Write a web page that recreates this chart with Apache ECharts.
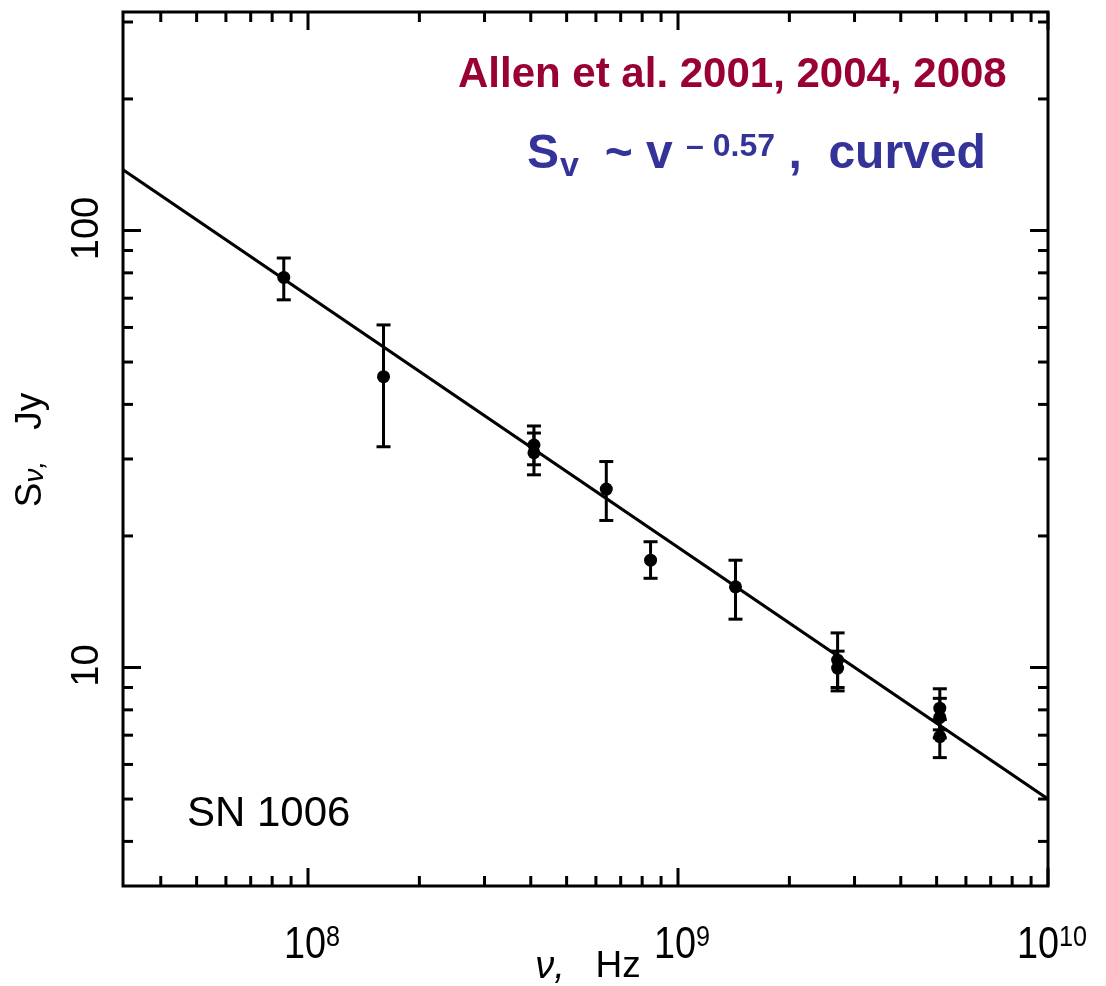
<!DOCTYPE html>
<html>
<head>
<meta charset="utf-8">
<script src="https://cdn.jsdelivr.net/npm/echarts@6/dist/echarts.min.js"></script>
<style>
  html, body { margin: 0; padding: 0; background: #fff; }
  #chart { width: 1106px; height: 986px; }
</style>
</head>
<body>
<div id="chart"></div>
<script>
// Radio flux density measurements of SN 1006
const freqHz  = [8.6e7, 1.6e8, 4.08e8, 4.08e8, 6.4e8, 8.43e8, 1.43e9, 2.7e9, 2.7e9, 5.1e9, 5.1e9, 5.1e9];
const fluxJy  = [78.1, 46.3, 32.3, 31.0, 25.6, 17.6, 15.3, 10.4, 9.97, 8.07, 7.69, 6.95];
const errLow  = [69.4, 32.0, 29.1, 27.6, 21.7, 16.0, 12.9, 9.0, 8.84, 7.2, 6.9, 6.22];
const errHigh = [86.5, 60.8, 35.7, 34.4, 29.6, 19.4, 17.6, 12.0, 10.9, 8.94, 8.5, 7.6];

// Power-law fit, end points across the plotted frequency range
const fitFreq = [3.1623e7, 1e10];
const fitFlux = [137.7, 5.0];

// Axis ticks
const xMajorTicks = [1e8, 1e9, 1e10];
const xTickExponents = ['8', '9', '10'];
const xMinorTicks = [4e7, 5e7, 6e7, 7e7, 8e7, 9e7,
                     2e8, 3e8, 4e8, 5e8, 6e8, 7e8, 8e8, 9e8,
                     2e9, 3e9, 4e9, 5e9, 6e9, 7e9, 8e9, 9e9];
const yMajorTicks = [10, 100];
const yTickLabels = ['10', '100'];
const yMinorTicks = [4, 5, 6, 7, 8, 9, 20, 30, 40, 50, 60, 70, 80, 90, 200, 300];

const X_MIN = Math.pow(10, 7.5), X_MAX = 1e10;
const Y_MIN = Math.pow(10, 0.5), Y_MAX = Math.pow(10, 2.5);

const FONT = '"Liberation Sans", Arial, Helvetica, sans-serif';
const TICK_STYLE = { stroke: '#000', lineWidth: 3 };
const MAJOR_LEN = 18, MINOR_LEN = 10;
const FORMULA_COLOR = '#333399';

const chart = echarts.init(document.getElementById('chart'), null, { renderer: 'canvas' });

function xTickItem(params, api) {
  const v = api.value(0);
  const len = api.value(2) === 1 ? MAJOR_LEN : MINOR_LEN;
  const b = api.coord([v, Y_MIN]);
  const t = api.coord([v, Y_MAX]);
  return {
    type: 'group',
    children: [
      { type: 'line', shape: { x1: b[0], y1: b[1], x2: b[0], y2: b[1] - len }, style: TICK_STYLE },
      { type: 'line', shape: { x1: t[0], y1: t[1], x2: t[0], y2: t[1] + len }, style: TICK_STYLE }
    ]
  };
}

function yTickItem(params, api) {
  const v = api.value(1);
  const len = api.value(2) === 1 ? MAJOR_LEN : MINOR_LEN;
  const l = api.coord([X_MIN, v]);
  const r = api.coord([X_MAX, v]);
  return {
    type: 'group',
    children: [
      { type: 'line', shape: { x1: l[0], y1: l[1], x2: l[0] + len, y2: l[1] }, style: TICK_STYLE },
      { type: 'line', shape: { x1: r[0], y1: r[1], x2: r[0] - len, y2: r[1] }, style: TICK_STYLE }
    ]
  };
}

function xLabelItem(params, api) {
  const p = api.coord([api.value(0), Y_MIN]);
  return {
    type: 'text',
    x: p[0] + 4,
    y: p[1] + 37,
    scaleX: 0.84,
    style: {
      text: '{b|10}{s|' + xTickExponents[params.dataIndex] + '}',
      align: 'center',
      verticalAlign: 'top',
      fill: '#000',
      rich: {
        b: { fontFamily: FONT, fontSize: 45, lineHeight: 45, fill: '#000' },
        s: { fontFamily: FONT, fontSize: 30, lineHeight: 8, verticalAlign: 'top', fill: '#000' }
      }
    }
  };
}

function yLabelItem(params, api) {
  const p = api.coord([X_MIN, api.value(1)]);
  return {
    type: 'text',
    x: 88,
    y: p[1] - 2,
    rotation: Math.PI / 2,
    style: {
      text: yTickLabels[params.dataIndex],
      align: 'center',
      verticalAlign: 'middle',
      fontFamily: FONT,
      fontSize: 38,
      fill: '#000'
    }
  };
}

function errorBarItem(params, api) {
  const lo = api.coord([api.value(0), api.value(1)]);
  const hi = api.coord([api.value(0), api.value(2)]);
  const cap = 7;
  const style = { stroke: '#000', lineWidth: 3 };
  return {
    type: 'group',
    children: [
      { type: 'line', shape: { x1: lo[0], y1: lo[1], x2: hi[0], y2: hi[1] }, style },
      { type: 'line', shape: { x1: lo[0] - cap, y1: lo[1], x2: lo[0] + cap, y2: lo[1] }, style },
      { type: 'line', shape: { x1: hi[0] - cap, y1: hi[1], x2: hi[0] + cap, y2: hi[1] }, style }
    ]
  };
}

const xTickData = xMajorTicks.map(v => [v, Y_MIN, 1]).concat(xMinorTicks.map(v => [v, Y_MIN, 0]));
const yTickData = yMajorTicks.map(v => [X_MIN, v, 1]).concat(yMinorTicks.map(v => [X_MIN, v, 0]));

const option = {
  animation: false,
  backgroundColor: '#fff',
  grid: {
    left: 123, right: 58, top: 12, bottom: 100,
    show: true, borderColor: '#000', borderWidth: 3, backgroundColor: 'transparent'
  },
  xAxis: {
    type: 'log', logBase: 10, min: X_MIN, max: X_MAX,
    axisLine: { show: false }, axisTick: { show: false },
    axisLabel: { show: false }, splitLine: { show: false }
  },
  yAxis: {
    type: 'log', logBase: 10, min: Y_MIN, max: Y_MAX,
    axisLine: { show: false }, axisTick: { show: false },
    axisLabel: { show: false }, splitLine: { show: false }
  },
  series: [
    {
      type: 'line', data: fitFreq.map((f, i) => [f, fitFlux[i]]),
      showSymbol: false, lineStyle: { color: '#000', width: 3.2 }, z: 2, silent: true
    },
    {
      type: 'custom', renderItem: errorBarItem,
      data: freqHz.map((f, i) => [f, errLow[i], errHigh[i]]),
      encode: { x: 0, y: [1, 2] }, z: 3, silent: true
    },
    {
      type: 'scatter', data: freqHz.map((f, i) => [f, fluxJy[i]]),
      symbol: 'circle', symbolSize: 13, itemStyle: { color: '#000', opacity: 1 }, z: 4, silent: true
    },
    {
      type: 'custom', renderItem: xTickItem, data: xTickData,
      encode: { x: 0, y: 1 }, clip: false, z: 5, silent: true
    },
    {
      type: 'custom', renderItem: yTickItem, data: yTickData,
      encode: { x: 0, y: 1 }, clip: false, z: 5, silent: true
    },
    {
      type: 'custom', renderItem: xLabelItem, data: xMajorTicks.map(v => [v, Y_MIN]),
      encode: { x: 0, y: 1 }, clip: false, z: 5, silent: true
    },
    {
      type: 'custom', renderItem: yLabelItem, data: yMajorTicks.map(v => [X_MIN, v]),
      encode: { x: 0, y: 1 }, clip: false, z: 5, silent: true
    }
  ],
  graphic: [
    {
      type: 'text', left: 458, top: 54, silent: true,
      style: {
        text: 'Allen et al. 2001, 2004, 2008',
        fontFamily: FONT, fontSize: 42, fontWeight: 'bold', fill: '#990033'
      }
    },
    {
      // spectral law; the gap token leaves room for the subscript drawn below
      type: 'text', x: 527, y: 131, silent: true,
      style: {
        text: '{m|S}{gap|}{m|  ~ v }{sup|\u2013 0.57}{m| ,  curved}',
        align: 'left', verticalAlign: 'top',
        rich: {
          m:   { fontFamily: FONT, fontSize: 48, fontWeight: 'bold', lineHeight: 48, fill: FORMULA_COLOR },
          gap: { width: 19, lineHeight: 48 },
          sup: { fontFamily: FONT, fontSize: 32, fontWeight: 'bold', lineHeight: 10, verticalAlign: 'top', fill: FORMULA_COLOR }
        }
      }
    },
    {
      type: 'text', x: 560, y: 167, silent: true,
      style: {
        text: 'v', align: 'left', verticalAlign: 'middle',
        fontFamily: FONT, fontSize: 34, fontWeight: 'bold', fill: FORMULA_COLOR
      }
    },
    {
      type: 'text', left: 187, top: 793, silent: true,
      style: { text: 'SN 1006', fontFamily: FONT, fontSize: 42, fill: '#000' }
    },
    {
      type: 'text', x: 30.5, y: 450, rotation: Math.PI / 2, silent: true,
      style: {
        text: '{m|S}{sub|\u03bd,}{m|   Jy}',
        align: 'center', verticalAlign: 'middle',
        rich: {
          m:   { fontFamily: FONT, fontSize: 37, lineHeight: 37, fill: '#000' },
          sub: { fontFamily: FONT, fontSize: 28, fontStyle: 'italic', lineHeight: 2, verticalAlign: 'bottom', fill: '#000' }
        }
      }
    },
    {
      type: 'text', x: 588, y: 967, silent: true,
      style: {
        text: '{i|\u03bd,}{m|   Hz}',
        align: 'center', verticalAlign: 'middle',
        rich: {
          i: { fontFamily: FONT, fontSize: 38, fontStyle: 'italic', fill: '#000' },
          m: { fontFamily: FONT, fontSize: 37, fill: '#000' }
        }
      }
    }
  ]
};

chart.setOption(option);
</script>
</body>
</html>
